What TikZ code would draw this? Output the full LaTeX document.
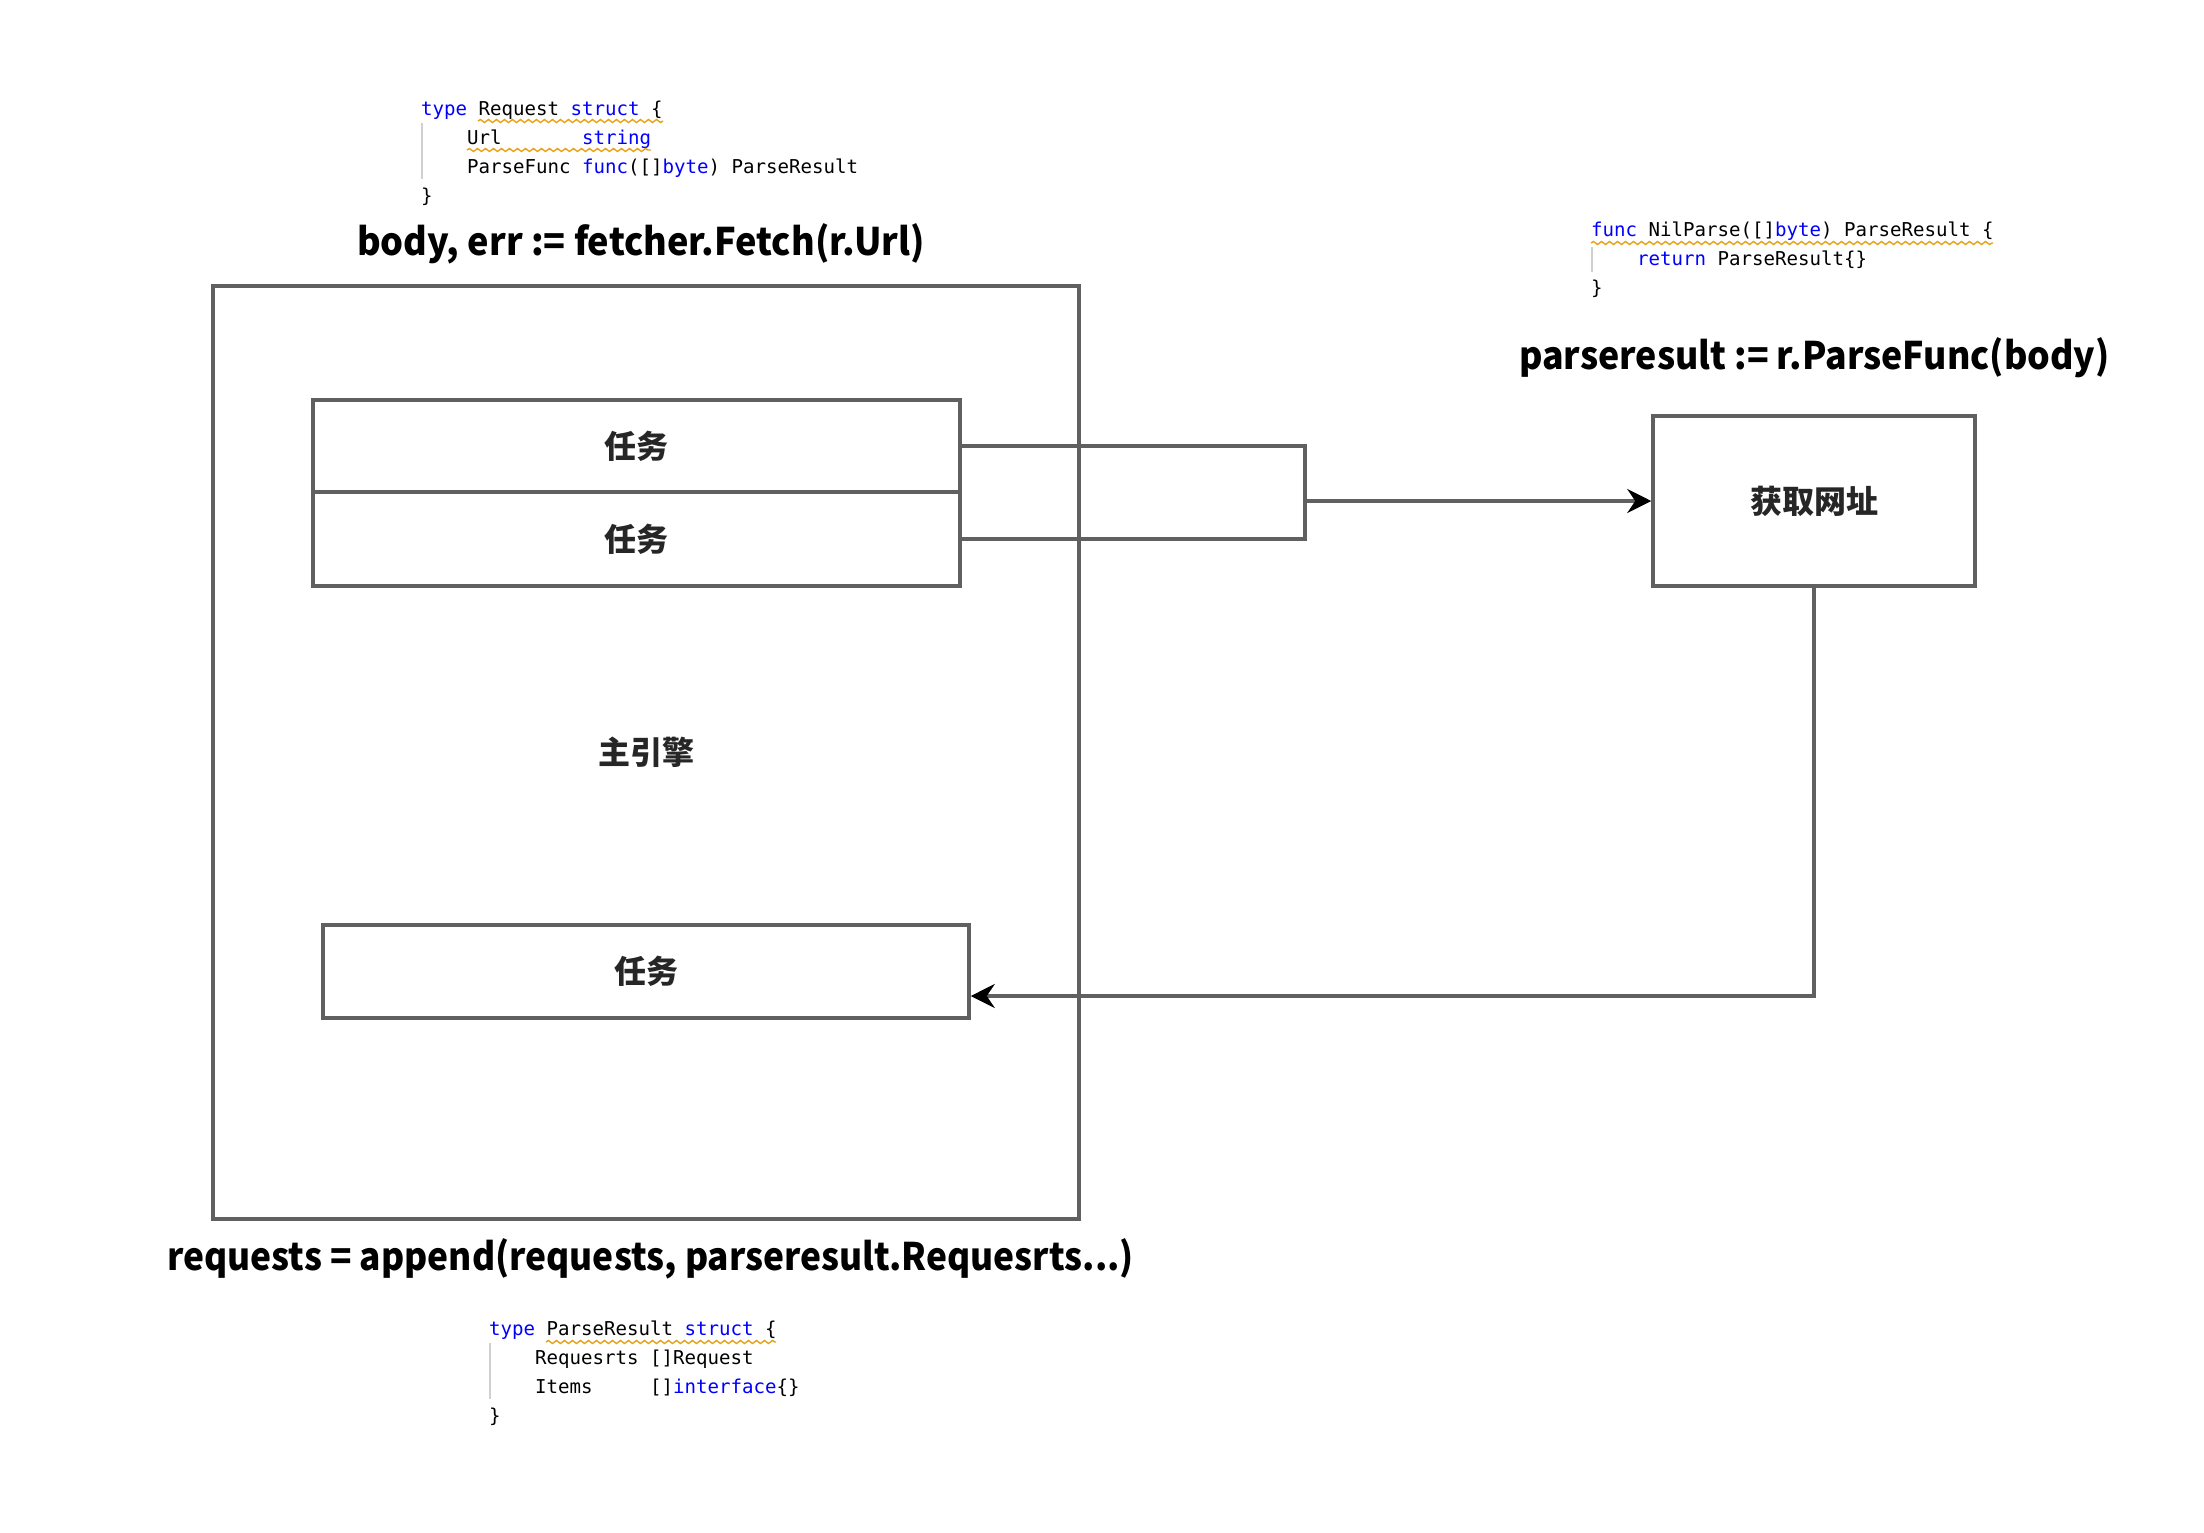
\documentclass[tikz,border=0pt]{standalone}
\usepackage{fontspec}
\usetikzlibrary{arrows.meta,decorations.pathmorphing}
\newfontfamily\cjk{Noto Sans CJK SC}
\newfontfamily\codefont{DejaVu Sans Mono}
\definecolor{linegray}{RGB}{96,96,96}
\definecolor{kwblue}{RGB}{0,0,255}
\definecolor{squiggle}{RGB}{230,162,20}
\definecolor{guidegray}{RGB}{208,208,208}
\newcommand{\kw}[1]{\textcolor{kwblue}{#1}}

\begin{document}
\begin{tikzpicture}[x=1pt,y=1pt,yscale=-1,xscale=1,
    box/.style={draw=linegray,line width=3.5pt,inner sep=0pt},
    tasklbl/.style={font=\cjk\bfseries\fontsize{32}{36}\selectfont,text=black!85},
    codeline/.style={anchor=base west,inner sep=0pt,font=\codefont\fontsize{19.1}{23}\selectfont},
    stmt/.style={anchor=west,inner sep=0pt,font=\cjk\bfseries\fontsize{38}{44}\selectfont},
    wavy/.style={draw=squiggle,line width=1.4pt,decorate,decoration={snake,amplitude=1.5pt,segment length=8pt}},
    guide/.style={draw=guidegray,line width=2pt},
    flow/.style={draw=linegray,line width=3.5pt},
    flowarrow/.style={flow,-{Stealth[length=24pt,width=24pt,inset=8pt,color=black]}}
  ]
        \path[use as bounding box] (0,0) rectangle (2204,1532);

        %Shape: Rectangle [engine]
        \node (engine) [box,tasklbl,minimum width=866pt,minimum height=933pt] at (646,752.5) {主引擎};
        %Shape: Rectangle [tasks]
        \node (t1) [box,tasklbl,minimum width=647pt,minimum height=92pt] at (636.5,446) {任务};
        \node (t2) [box,tasklbl,minimum width=647pt,minimum height=94pt] at (636.5,539) {任务};
        \node (t3) [box,tasklbl,minimum width=646pt,minimum height=93pt] at (646,971.5) {任务};
        %Shape: Rectangle [fetcher]
        \node (fetch) [box,tasklbl,minimum width=322pt,minimum height=170pt] at (1814,501) {获取网址};

        %Straight Lines
        \coordinate (brk) at (1305,501);
        \draw[flow] (t1.east) -| (brk) |- (t2.east);
        \draw[flowarrow] (brk) -- (fetch.west);
        \draw[flowarrow] (fetch.south) |- ([yshift=24.5pt]t3.east);

        % Text Node
        \node (fetchstmt) [stmt,xscale=0.95] at (357,244) {body, err := fetcher.Fetch(r.Url)};
        % Text Node
        \node (parsestmt) [stmt,xscale=0.94] at (1519,358) {parseresult := r.ParseFunc(body)};
        % Text Node
        \node (appendstmt) [stmt,xscale=0.93] at (167,1259) {requests = append(requests, parseresult.Requesrts...)};

        % Code: Request
        \node (req1) [codeline] at (421,115) {\kw{type} Request \kw{struct} \{};
        \node (req2) [codeline] at (467,144) {Url~~~~~~~\kw{string}};
        \node (req3) [codeline] at (467,173) {ParseFunc \kw{func}([]\kw{byte}) ParseResult};
        \node (req4) [codeline] at (421,202) {\}};
        \draw[guide] (422,123) -- (422,179);
        \draw[wavy] (478,121) -- (663,121);
        \draw[wavy] (467,150) -- (651,150);

        % Code: NilParse
        \node (nil1) [codeline] at (1591,236) {\kw{func} NilParse([]\kw{byte}) ParseResult \{};
        \node (nil2) [codeline] at (1637,265) {\kw{return} ParseResult\{\}};
        \node (nil3) [codeline] at (1591,294) {\}};
        \draw[guide] (1592,247) -- (1592,272);
        \draw[wavy] (1591,243) -- (1993,243);

        % Code: ParseResult
        \node (pr1) [codeline] at (489,1335) {\kw{type} ParseResult \kw{struct} \{};
        \node (pr2) [codeline] at (535,1364) {Requesrts []Request};
        \node (pr3) [codeline] at (535,1393) {Items~~~~~[]\kw{interface}\{\}};
        \node (pr4) [codeline] at (489,1422) {\}};
        \draw[guide] (490,1343) -- (490,1399);
        \draw[wavy] (546,1342) -- (776,1342);

\end{tikzpicture}
\end{document}
